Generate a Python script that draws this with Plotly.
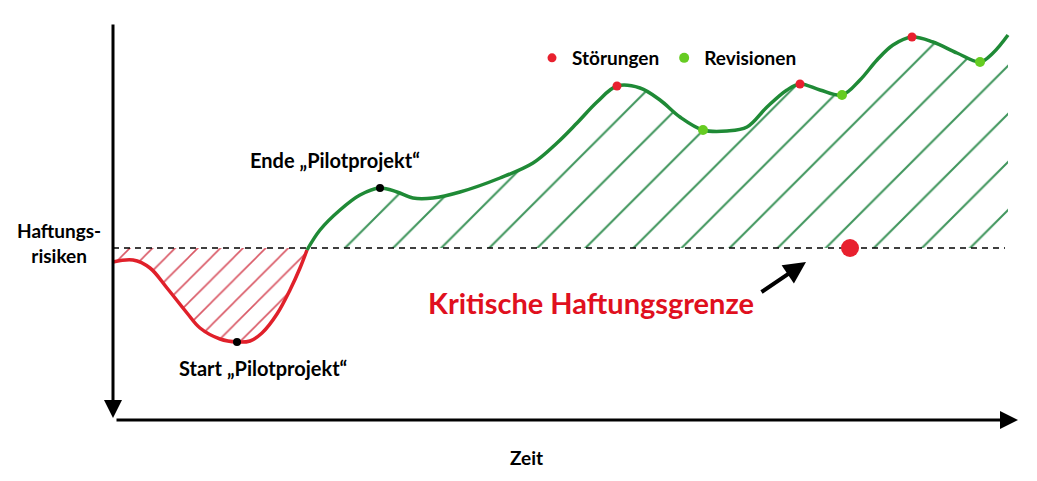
import plotly.graph_objects as go

# ---- data (time axis ~ 0..1037, risk axis ~ 0..481) ----
red_t = [113, 133, 150, 167, 187, 200, 220, 237, 250, 262, 277, 290, 300, 307]
red_r = [219, 221, 213, 193, 168, 153, 142, 139, 140, 148, 167, 191, 213, 231]

green_t = [307, 320, 340, 360, 380, 397, 413, 433, 460, 500, 533, 557, 577, 597, 617,
           640, 660, 680, 703, 727, 747, 767, 787, 800, 820, 842, 860, 877, 893, 912,
           933, 957, 980, 993, 1008]
green_r = [231, 251, 271, 286, 293, 289, 283, 283, 289, 303, 318, 338, 358, 379, 395,
           393, 381, 364, 351, 350, 354, 374, 391, 397, 391, 386, 401, 421, 436, 444,
           439, 428, 419, 428, 446]

limit_r = 233
limit_t = [113, 1005]

stoer_t = [617, 800, 912]
stoer_r = [395, 397, 444]
rev_t = [703, 842, 980]
rev_r = [351, 386, 419]
pilot_t = [237, 380]
pilot_r = [139, 293]
breach_t = [850]
breach_r = [233]

FONT = "Lato"
W, H, OFF = 1037, 481, 8  # page body margin offset

fig = go.Figure()

# red hatched area (below limit)
fig.add_trace(go.Scatter(x=[red_t[0], red_t[-1]], y=[limit_r, limit_r], mode="lines",
                         line=dict(width=0), showlegend=False, hoverinfo="skip"))
fig.add_trace(go.Scatter(x=red_t, y=red_r, mode="lines", fill="tonexty",
                         fillpattern=dict(shape="/", fgcolor="#d23a4a", fgopacity=0.85,
                                          bgcolor="rgba(0,0,0,0)", size=16, solidity=0.1),
                         line=dict(color="#e0202a", width=3.5, shape="spline"),
                         showlegend=False, hoverinfo="skip"))
# green hatched area (above limit)
fig.add_trace(go.Scatter(x=[green_t[0], green_t[-1]], y=[limit_r, limit_r], mode="lines",
                         line=dict(width=0), showlegend=False, hoverinfo="skip"))
fig.add_trace(go.Scatter(x=green_t, y=green_r, mode="lines", fill="tonexty",
                         fillpattern=dict(shape="/", fgcolor="#2a8a4a", fgopacity=0.9,
                                          bgcolor="rgba(0,0,0,0)", size=34, solidity=0.06),
                         line=dict(color="#1f8a36", width=3.5, shape="spline"),
                         showlegend=False, hoverinfo="skip"))
# limit line
fig.add_trace(go.Scatter(x=limit_t, y=[limit_r, limit_r], mode="lines",
                         line=dict(color="black", width=1.6, dash="6px,5px"),
                         showlegend=False, hoverinfo="skip"))
# markers
fig.add_trace(go.Scatter(x=stoer_t, y=stoer_r, mode="markers", name="<b>Störungen</b>",
                         marker=dict(color="#e8202e", size=9)))
fig.add_trace(go.Scatter(x=rev_t, y=rev_r, mode="markers", name="<b>Revisionen</b>",
                         marker=dict(color="#66cc22", size=10)))
fig.add_trace(go.Scatter(x=pilot_t, y=pilot_r, mode="markers", showlegend=False,
                         marker=dict(color="black", size=8)))
fig.add_trace(go.Scatter(x=breach_t, y=breach_r, mode="markers", showlegend=False,
                         marker=dict(color="#e8202e", size=18)))

ann = []
# axes arrows
ann.append(dict(x=113, y=63, ax=113, ay=458, xref="x", yref="y", axref="x", ayref="y",
                showarrow=True, arrowhead=2, arrowsize=1.2, arrowwidth=3, arrowcolor="black", text=""))
ann.append(dict(x=1018, y=61, ax=115, ay=61, xref="x", yref="y", axref="x", ayref="y",
                showarrow=True, arrowhead=2, arrowsize=1.2, arrowwidth=3, arrowcolor="black", text=""))
# pointer arrow
ann.append(dict(x=806, y=219, ax=760, ay=188, xref="x", yref="y", axref="x", ayref="y",
                showarrow=True, arrowhead=2, arrowsize=1.1, arrowwidth=4, arrowcolor="black", text=""))
# texts
ann.append(dict(x=591, y=179, xref="x", yref="y", showarrow=False,
                text="<b>Kritische Haftungsgrenze</b>",
                font=dict(family=FONT, size=29, color="#e0101e")))
ann.append(dict(x=335, y=321, xref="x", yref="y", showarrow=False,
                text="<b>Ende „Pilotprojekt“</b>", font=dict(family=FONT, size=20, color="black")))
ann.append(dict(x=263, y=113, xref="x", yref="y", showarrow=False,
                text="<b>Start „Pilotprojekt“</b>", font=dict(family=FONT, size=20, color="black")))
ann.append(dict(x=59, y=238, xref="x", yref="y", showarrow=False,
                text="<b>Haftungs-<br>risiken</b>", font=dict(family=FONT, size=19, color="black")))
ann.append(dict(x=526, y=24, xref="x", yref="y", showarrow=False,
                text="<b>Zeit</b>", font=dict(family=FONT, size=19, color="black")))

fig.update_layout(
    width=W, height=H, margin=dict(l=0, r=0, t=0, b=0),
    paper_bgcolor="white", plot_bgcolor="white",
    xaxis=dict(range=[OFF, W + OFF], visible=False, fixedrange=True),
    yaxis=dict(range=[-OFF, H - OFF], visible=False, fixedrange=True),
    legend=dict(orientation="h", traceorder="normal",
                x=(532 - OFF) / W, y=1 - (58 - OFF) / H, xanchor="left", yanchor="middle",
                font=dict(family=FONT, size=19, color="black"), bgcolor="rgba(0,0,0,0)",
                itemwidth=30),
    annotations=ann,
)

fig.write_html("out.html")
